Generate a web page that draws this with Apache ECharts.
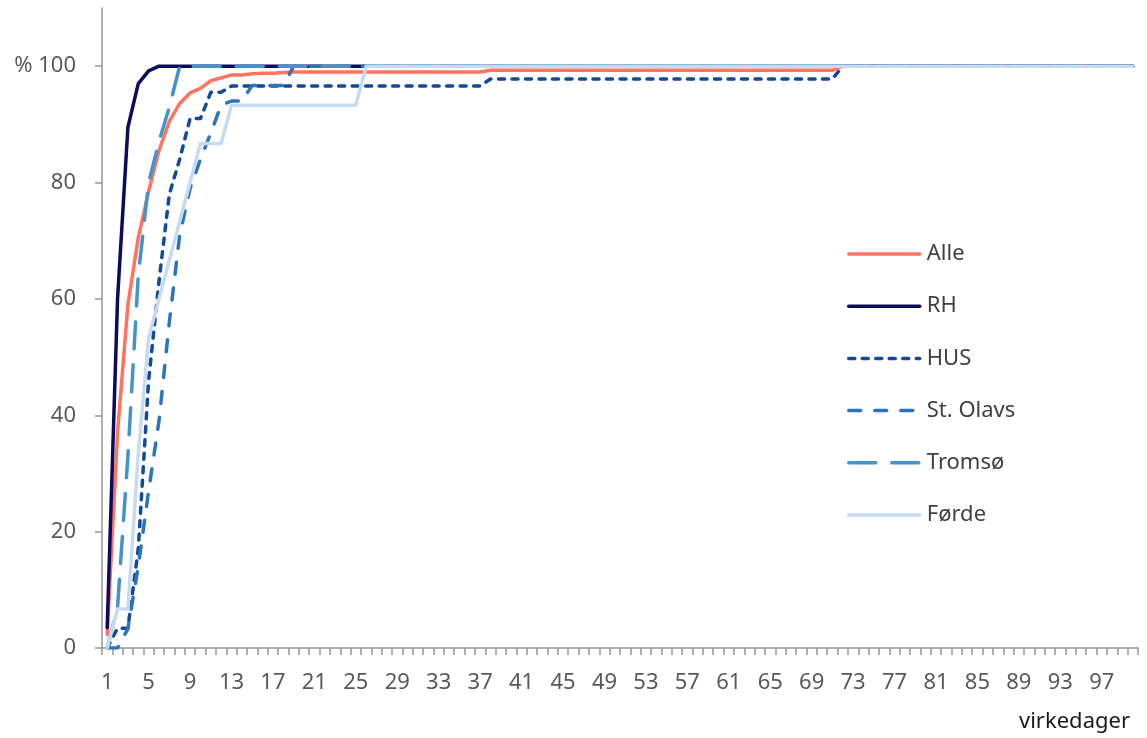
<!DOCTYPE html>
<html>
<head>
<meta charset="utf-8">
<script src="https://cdn.jsdelivr.net/npm/echarts@6/dist/echarts.min.js"></script>
<style>
  html, body { margin: 0; padding: 0; background: #ffffff; }
  #chart { width: 1147px; height: 738px; }
</style>
</head>
<body>
<div id="chart"></div>
<script>
// Cumulative share (%) of cases completed per working day, days 1..100
const days = [];
for (let d = 1; d <= 100; d++) days.push(String(d));

const yTicks = [0, 20, 40, 60, 80, 100];
const xTitle = 'virkedager';
const seriesNames = ['Alle', 'RH', 'HUS', 'St. Olavs', 'Tromsø', 'Førde'];

const alle = [
  2.3, 37, 59, 70.5, 78.5, 85.5, 90.5, 93.6, 95.4, 96.2,
  97.5, 98, 98.5, 98.5, 98.7, 98.8, 98.8, 98.9, 99, 99,
  99, 99, 99, 99, 99, 99, 99, 99, 99, 99,
  99, 99, 99, 99, 99, 99, 99, 99.3, 99.3, 99.3,
  99.3, 99.3, 99.3, 99.3, 99.3, 99.3, 99.3, 99.3, 99.3, 99.3,
  99.3, 99.3, 99.3, 99.3, 99.3, 99.3, 99.3, 99.3, 99.3, 99.3,
  99.3, 99.3, 99.3, 99.3, 99.3, 99.3, 99.3, 99.3, 99.3, 99.3,
  99.3, 100, 100, 100, 100, 100, 100, 100, 100, 100,
  100, 100, 100, 100, 100, 100, 100, 100, 100, 100,
  100, 100, 100, 100, 100, 100, 100, 100, 100, 100
];

const rh = [
  3.5, 60, 89.5, 97, 99.2, 100, 100, 100, 100, 100,
  100, 100, 100, 100, 100, 100, 100, 100, 100, 100,
  100, 100, 100, 100, 100, 100, 100, 100, 100, 100,
  100, 100, 100, 100, 100, 100, 100, 100, 100, 100,
  100, 100, 100, 100, 100, 100, 100, 100, 100, 100,
  100, 100, 100, 100, 100, 100, 100, 100, 100, 100,
  100, 100, 100, 100, 100, 100, 100, 100, 100, 100,
  100, 100, 100, 100, 100, 100, 100, 100, 100, 100,
  100, 100, 100, 100, 100, 100, 100, 100, 100, 100,
  100, 100, 100, 100, 100, 100, 100, 100, 100, 100
];

const hus = [
  0, 3.4, 3.4, 17, 46, 63, 78, 84, 91, 91,
  95.5, 95.5, 96.6, 96.6, 96.6, 96.6, 96.6, 96.6, 96.6, 96.6,
  96.6, 96.6, 96.6, 96.6, 96.6, 96.6, 96.6, 96.6, 96.6, 96.6,
  96.6, 96.6, 96.6, 96.6, 96.6, 96.6, 96.6, 97.8, 97.8, 97.8,
  97.8, 97.8, 97.8, 97.8, 97.8, 97.8, 97.8, 97.8, 97.8, 97.8,
  97.8, 97.8, 97.8, 97.8, 97.8, 97.8, 97.8, 97.8, 97.8, 97.8,
  97.8, 97.8, 97.8, 97.8, 97.8, 97.8, 97.8, 97.8, 97.8, 97.8,
  97.8, 100, 100, 100, 100, 100, 100, 100, 100, 100,
  100, 100, 100, 100, 100, 100, 100, 100, 100, 100,
  100, 100, 100, 100, 100, 100, 100, 100, 100, 100
];

const stOlavs = [
  0, 0, 3.3, 14, 27, 39, 56, 71, 79, 84,
  88.5, 93.3, 94, 94, 96.7, 96.7, 96.7, 96.7, 100, 100,
  100, 100, 100, 100, 100, 100, 100, 100, 100, 100,
  100, 100, 100, 100, 100, 100, 100, 100, 100, 100,
  100, 100, 100, 100, 100, 100, 100, 100, 100, 100,
  100, 100, 100, 100, 100, 100, 100, 100, 100, 100,
  100, 100, 100, 100, 100, 100, 100, 100, 100, 100,
  100, 100, 100, 100, 100, 100, 100, 100, 100, 100,
  100, 100, 100, 100, 100, 100, 100, 100, 100, 100,
  100, 100, 100, 100, 100, 100, 100, 100, 100, 100
];

const tromso = [
  0, 7, 33, 64, 80, 87, 93, 100, 100, 100,
  100, 100, 100, 100, 100, 100, 100, 100, 100, 100,
  100, 100, 100, 100, 100, 100, 100, 100, 100, 100,
  100, 100, 100, 100, 100, 100, 100, 100, 100, 100,
  100, 100, 100, 100, 100, 100, 100, 100, 100, 100,
  100, 100, 100, 100, 100, 100, 100, 100, 100, 100,
  100, 100, 100, 100, 100, 100, 100, 100, 100, 100,
  100, 100, 100, 100, 100, 100, 100, 100, 100, 100,
  100, 100, 100, 100, 100, 100, 100, 100, 100, 100,
  100, 100, 100, 100, 100, 100, 100, 100, 100, 100
];

const forde = [
  0, 6.7, 6.7, 33.3, 53.3, 60, 66.7, 73.3, 80, 86.7,
  86.7, 86.7, 93.3, 93.3, 93.3, 93.3, 93.3, 93.3, 93.3, 93.3,
  93.3, 93.3, 93.3, 93.3, 93.3, 100, 100, 100, 100, 100,
  100, 100, 100, 100, 100, 100, 100, 100, 100, 100,
  100, 100, 100, 100, 100, 100, 100, 100, 100, 100,
  100, 100, 100, 100, 100, 100, 100, 100, 100, 100,
  100, 100, 100, 100, 100, 100, 100, 100, 100, 100,
  100, 100, 100, 100, 100, 100, 100, 100, 100, 100,
  100, 100, 100, 100, 100, 100, 100, 100, 100, 100,
  100, 100, 100, 100, 100, 100, 100, 100, 100, 100
];

const FONT = '"Noto Sans", "Open Sans", sans-serif';
const AXIS_GREY = '#969696';
const LABEL_GREY = '#595959';
const LINE_W = 3.5;

function lineSeries(name, data, color, dash) {
  return {
    name: name,
    type: 'line',
    data: data,
    symbol: 'none',
    showSymbol: false,
    smooth: false,
    animation: false,
    lineStyle: {
      color: color,
      width: LINE_W,
      type: dash,
      cap: 'round',
      join: 'round'
    },
    itemStyle: { color: color }
  };
}

const chart = echarts.init(document.getElementById('chart'), null, { renderer: 'canvas' });

chart.setOption({
  backgroundColor: '#ffffff',
  animation: false,
  textStyle: { fontFamily: FONT },
  grid: { left: 102, right: 9, top: 8, bottom: 90, containLabel: false },
  xAxis: {
    type: 'category',
    data: days,
    boundaryGap: true,
    axisLine: { show: true, lineStyle: { color: AXIS_GREY, width: 1.5 } },
    axisTick: { show: true, interval: 0, length: 7, lineStyle: { color: AXIS_GREY, width: 1.5 } },
    axisLabel: {
      interval: 3,
      margin: 24,
      color: LABEL_GREY,
      fontSize: 22,
      fontFamily: FONT
    },
    splitLine: { show: false }
  },
  yAxis: {
    type: 'value',
    min: 0,
    max: 110,
    interval: 20,
    axisLine: { show: true, lineStyle: { color: AXIS_GREY, width: 1.5 } },
    axisTick: { show: true, length: 7, customValues: yTicks, lineStyle: { color: AXIS_GREY, width: 1.5 } },
    axisLabel: {
      customValues: yTicks,
      margin: 26,
      color: LABEL_GREY,
      fontSize: 22,
      fontFamily: FONT,
      formatter: function (v) { return v === 100 ? '% 100' : String(v); }
    },
    splitLine: { show: false }
  },
  legend: {
    orient: 'vertical',
    left: 847,
    top: 243,
    padding: 0,
    itemWidth: 71,
    itemHeight: 22,
    itemGap: 30.2,
    data: seriesNames,
    itemStyle: { opacity: 0 },
    lineStyle: { width: LINE_W },
    textStyle: {
      color: '#404040',
      fontSize: 22,
      lineHeight: 22,
      fontFamily: FONT,
      padding: [0, 0, 0, 2]
    }
  },
  graphic: [{
    type: 'text',
    right: 17,
    top: 711,
    style: {
      text: xTitle,
      fill: '#1a1a1a',
      fontSize: 22,
      fontFamily: FONT
    }
  }],
  series: [
    lineSeries(seriesNames[0], alle, '#ff7361', 'solid'),
    lineSeries(seriesNames[1], rh, '#0c0c5e', 'solid'),
    lineSeries(seriesNames[2], hus, '#114a9a', [6, 7.5]),
    lineSeries(seriesNames[3], stOlavs, '#2b76bb', [12, 14]),
    lineSeries(seriesNames[4], tromso, '#4493cc', [27, 16]),
    lineSeries(seriesNames[5], forde, '#c6dbef', 'solid')
  ]
});
</script>
</body>
</html>
